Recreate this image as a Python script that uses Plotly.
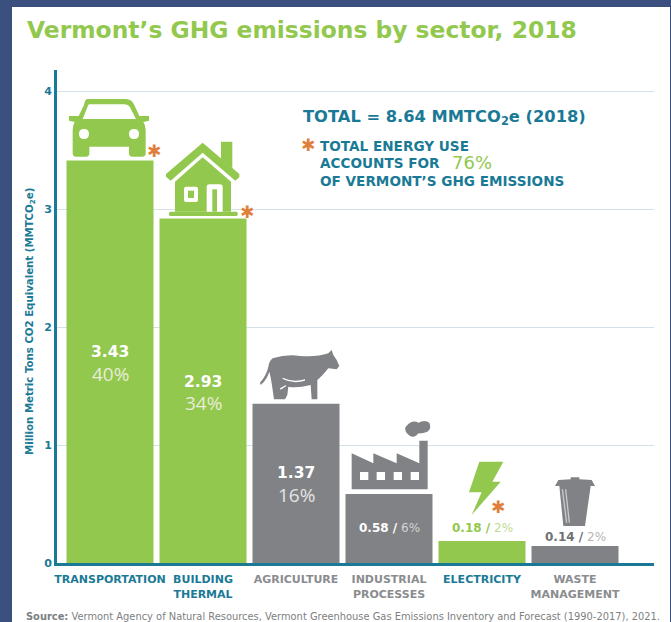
import re
import plotly.graph_objects as go

sectors = ["TRANSPORTATION", "BUILDING<br>THERMAL", "AGRICULTURE", "INDUSTRIAL<br>PROCESSES", "ELECTRICITY", "WASTE<br>MANAGEMENT"]
bar_heights = [3.41, 2.92, 1.35, 0.585, 0.186, 0.144]
value_labels = ["3.43", "2.93", "1.37", "0.58", "0.18", "0.14"]
share_labels = ["40%", "34%", "16%", "6%", "2%", "2%"]
y_ticks = [0, 1, 2, 3, 4]

W, H = 671, 622
L, R, T, B = 57, 654, 70, 563
GREEN, GRAY, TEAL, ORANGE = "#92c84e", "#808285", "#1a7a96", "#e07f3a"
NAVY, GRID = "#3c5080", "#d3e2e8"
FONT = "DejaVu Sans"
SLOPE = (B - 91) / 4
bar_colors = [GREEN, GREEN, GRAY, GRAY, GREEN, GRAY]
tick_colors = [TEAL, TEAL, "#8a8c8f", "#8a8c8f", TEAL, "#8a8c8f"]


def px(x):
    return (x - L) / (R - L)


def py(y):
    return (B - y) / (B - T)


def pth(d, ox=0, oy=0):
    """Icon outline given in 3x crop pixels, converted to paper coordinates."""
    nums = iter(re.findall(r"[A-Za-z]|-?\d+\.?\d*", d))
    out, isx = [], True
    for tok in nums:
        if tok.isalpha():
            out.append(tok)
            isx = True
        else:
            v = float(tok) / 3
            out.append(f"{px(v + ox):.5f}" if isx else f"{py(v + oy):.5f}")
            isx = not isx
    return " ".join(out)


def shape(d, fill, ox=0, oy=0):
    return dict(type="path", xref="paper", yref="paper", path=pth(d, ox, oy),
                fillcolor=fill, line=dict(width=0), layer="above")


def circle(cx, cy, r, fill):
    return shape(f"M {cx-r} {cy} Q {cx-r} {cy-r} {cx} {cy-r} Q {cx+r} {cy-r} {cx+r} {cy} "
                 f"Q {cx+r} {cy+r} {cx} {cy+r} Q {cx-r} {cy+r} {cx-r} {cy} Z", fill)


WH = "#ffffff"
shapes = [dict(type="rect", xref="paper", yref="paper", x0=px(12), x1=px(670), y0=py(622), y1=py(7),
               fillcolor="white", line=dict(width=0), layer="below")]
# car
shapes += [
    shape("M 262 297 L 378 297 Q 395 297 403 315 L 418 348 L 447 348 L 447 362 L 430 366 Q 437 375 437 390 "
          "L 437 460 Q 437 470 427 470 L 397 470 Q 387 470 387 460 L 387 440 L 268 440 L 268 460 Q 268 470 258 470 "
          "L 228 470 Q 218 470 218 460 L 218 390 Q 218 375 224 366 L 207 362 L 207 348 L 236 348 L 252 315 Q 255 297 262 297 Z", GREEN),
    shape("M 268 313 L 372 313 Q 385 313 390 322 L 408 357 L 248 357 L 262 322 Q 264 313 268 313 Z", WH),
    circle(252, 402, 15, WH), circle(402, 402, 15, WH),
]
# house
shapes += [
    shape("M 663 425 L 697 425 L 697 505 L 663 478 Z", GREEN),
    shape("M 608 428 L 718 522 L 718 532 L 706 542 L 608 458 L 512 542 L 498 530 L 498 522 Z", GREEN),
    shape("M 608 472 L 693 545 L 693 635 L 525 635 L 525 545 Z", GREEN),
    shape("M 510 635 L 710 635 Q 717 641 710 648 L 510 648 Q 503 641 510 635 Z", GREEN),
    shape("M 558 560 L 588 560 Q 594 560 594 566 L 594 600 Q 594 606 588 606 L 558 606 Q 552 606 552 600 L 552 566 Q 552 560 558 560 Z", WH),
    shape("M 564 572 L 582 572 L 582 594 L 564 594 Z", GREEN),
    shape("M 628 553 L 660 553 Q 668 553 668 561 L 668 635 L 620 635 L 620 561 Q 620 553 628 553 Z", WH),
    shape("M 637 568 L 651 568 L 651 635 L 637 635 Z", GREEN),
]
# cow
shapes += [
    shape("M 818 85 Q 860 72 900 78 Q 950 82 985 70 L 995 60 L 1000 75 Q 1012 90 1018 108 L 1010 118 L 985 115 "
          "Q 965 140 952 150 L 952 208 L 935 208 L 932 165 Q 890 175 865 170 L 862 195 L 855 208 L 822 208 "
          "Q 818 180 815 160 Q 812 140 808 125 Q 800 150 782 165 L 780 158 Q 800 135 805 110 Q 808 92 818 85 Z", GRAY, 0, 330),
    shape("M 848 143 Q 880 158 915 148 L 915 152 Q 880 163 848 147 Z", WH, 0, 330),
    shape("M 840 175 L 858 165 L 858 169 L 842 179 Z", WH, 0, 330),
]
# factory
shapes += [
    shape("M 65 160 L 130 190 L 130 160 L 200 190 L 200 160 L 268 190 L 268 122 L 293 122 L 293 268 L 65 268 Z", GRAY, 330, 400),
    shape("M 235 72 Q 250 60 265 68 Q 285 58 298 68 Q 306 85 292 95 Q 275 102 265 100 Q 255 115 240 108 Q 222 95 226 82 Z", GRAY, 330, 400),
]
for wx in (90, 140, 191, 242):
    shapes.append(shape(f"M {wx} 216 L {wx+25} 216 L {wx+25} 240 L {wx} 240 Z", WH, 330, 400))
# bolt
shapes.append(shape("M 448 185 L 520 185 L 487 245 L 512 245 L 425 345 L 455 277 L 417 277 Z", GREEN, 330, 400))
# bin
shapes += [
    shape("M 675 258 L 685 240 L 722 238 L 722 232 L 748 232 L 748 238 L 785 240 L 795 258 Z", GRAY, 330, 400),
    shape("M 688 258 L 782 258 L 765 378 L 700 378 Z", GRAY, 330, 400),
    shape("M 695 268 L 699 268 L 712 368 L 708 368 Z", "#c9cacc", 330, 400),
    shape("M 705 268 L 709 268 L 720 368 L 716 368 Z", "#c9cacc", 330, 400),
]


def text(x, y, s, size, color, bold=False, anchor="center", font=FONT, **kw):
    return dict(xref="paper", yref="paper", x=px(x), y=py(y), text=f"<b>{s}</b>" if bold else s,
                showarrow=False, xanchor=anchor, yanchor="middle", borderpad=0,
                font=dict(family=font, size=size, color=color), **kw)


ann = [
    text(26, 30, "Vermont’s GHG emissions by sector, 2018", 23.4, GREEN, True, "left"),
    text(302, 117, "TOTAL = 8.64 MMTCO<sub>2</sub>e (2018)", 16.3, TEAL, True, "left"),
    text(319, 146, "TOTAL ENERGY USE", 13.6, TEAL, True, "left"),
    text(319, 163, "ACCOUNTS FOR", 13.6, TEAL, True, "left"),
    text(451, 162, "76%", 18, GREEN, False, "left"),
    text(319, 181, "OF VERMONT’S GHG EMISSIONS", 13.6, TEAL, True, "left"),
    text(25, 616, '<b>Source:</b> Vermont Agency of Natural Resources, Vermont Greenhouse Gas Emissions Inventory and Forecast (1990-2017), 2021.',
         9.9, "#7d7f82", False, "left"),
    text(30, 322, "Million Metric Tons CO2 Equivalent (MMTCO<sub>2</sub>e)", 10.2, TEAL, True, textangle=-90),
]
for xa, ya in [(154, 151), (247, 212), (498, 507), (308, 145)]:
    ann.append(text(xa, ya, "✱", 17, ORANGE, False, font="DejaVu Sans"))


def bar_label(i, y, s, size, color, font=FONT):
    return dict(xref="x", yref="paper", x=i, y=py(y), text=s, showarrow=False, xanchor="center", yanchor="middle",
                borderpad=0, font=dict(family=font, size=size, color=color))


# labels stacked inside the tall bars
for i, yv, ys in [(0, 352, 374), (1, 382, 403), (2, 473, 495)]:
    ann.append(bar_label(i, yv, f"<b>{value_labels[i]}</b>", 15.5, "white"))
    ann.append(bar_label(i, ys, share_labels[i], 19, "#e8ecd8" if i < 2 else "#e4e4e6", "Open Sans"))
# inline labels on the short bars
for i, yv, c1, c2 in [(3, 528, "white", "#d5d5d7"), (4, 528, GREEN, "#bcdc94"), (5, 537, "#6f7174", "#b5b6b8")]:
    ann.append(bar_label(i, yv, f'<b>{value_labels[i]} /</b> <span style="color:{c2}">{share_labels[i]}</span>', 12, c1))

fig = go.Figure(go.Bar(x=list(range(len(sectors))), y=bar_heights, width=87 / 93,
                       marker=dict(color=bar_colors, line=dict(width=0)), hoverinfo="skip"))
fig.update_layout(
    width=W, height=H, margin=dict(l=L, r=W - R, t=T, b=H - B, pad=0, autoexpand=False),
    paper_bgcolor=NAVY, plot_bgcolor="rgba(0,0,0,0)", showlegend=False,
    shapes=shapes, annotations=ann,
    font=dict(family=FONT),
    xaxis=dict(range=[(L - 110) / 93, (R - 110) / 93], tickvals=list(range(6)),
               ticktext=[f'<b><span style="color:{c}">{s}</span></b>' for s, c in zip(sectors, tick_colors)],
               tickangle=0, ticks="", showgrid=False, zeroline=False, showline=True, linecolor=TEAL, linewidth=3,
               tickfont=dict(family=FONT, size=11, color=TEAL), ticklen=0, ticklabelstandoff=4),
    yaxis=dict(range=[0, (B - T) / SLOPE], tickvals=y_ticks, ticktext=[f"<b>{v}</b>" for v in y_ticks],
               ticks="", showgrid=True, gridcolor=GRID, gridwidth=1, zeroline=False, showline=True,
               linecolor=TEAL, linewidth=3, tickfont=dict(family=FONT, size=11, color=TEAL)),
)
fig.write_html("out.html", config=dict(displayModeBar=False),
               post_script="document.body.style.margin='0';document.body.style.overflow='hidden';")
